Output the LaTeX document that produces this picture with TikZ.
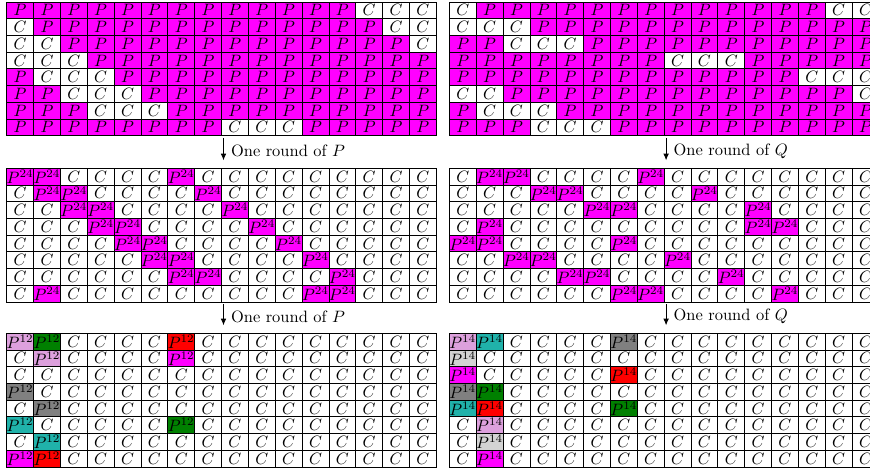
\documentclass[tikz,border=0pt]{standalone}
\usepackage{amsmath,amssymb}
\usepackage{tikz}
\usetikzlibrary{arrows.meta,positioning}

\definecolor{cellP}{RGB}{255,0,255}
\definecolor{cellC}{RGB}{255,255,255}
\definecolor{cellm}{RGB}{255,0,255}
\definecolor{celll}{RGB}{221,160,221}
\definecolor{cellg}{RGB}{0,128,0}
\definecolor{cellr}{RGB}{255,0,0}
\definecolor{cellk}{RGB}{128,128,128}
\definecolor{cellt}{RGB}{32,178,170}
\definecolor{cells}{RGB}{211,211,211}

\newcommand{\cellw}{26.85}
\newcommand{\cellh}{16.7}
\newcommand{\gexp}{}
\newcommand{\celltext}[1]{\if#1P$P$\else\if#1C$C$\else$P^{\gexp}$\fi\fi}

\tikzset{
    cell/.style={draw=black, line width=0.4pt, minimum width=16.31pt,
        minimum height=10.15pt, inner sep=0pt, outer sep=0pt},
    celltxt/.style={inner sep=0pt},
    roundarrow/.style={-{Latex[length=4pt,width=3.4pt]}, line width=0.5pt},
    steplabel/.style={anchor=west, xshift=1pt, yshift=-1pt}
}

% one 8x16 board: name, left, top, exponent, rows
\newcommand{\cellgrid}[5]{%
    \renewcommand{\gexp}{#4}%
    \foreach \rowcells [count=\r] in {#5} {
        \foreach \t [count=\c] in \rowcells {
            \node[cell, fill=cell\t] (#1-\r-\c) at ({#2+(\c-0.5)*\cellw}, {#3+(\r-0.5)*\cellh}) {};
        }
    }
    \foreach \rowcells [count=\r] in {#5} {
        \foreach \t [count=\c] in \rowcells {
            \node[celltxt] (#1-\r-\c-t) at (#1-\r-\c) {\makebox[0pt]{\celltext{\t}}};
        }
    }
}

\begin{document}
\begin{tikzpicture}[x=0.6075pt, y=-0.6075pt]
    \path[use as bounding box, clip] (0, 0) rectangle (870, 470);

    % Before
    \cellgrid{tl}{6.7}{2}{}{
        {P,P,P,P,P,P,P,P,P,P,P,P,P,C,C,C},
        {C,P,P,P,P,P,P,P,P,P,P,P,P,P,C,C},
        {C,C,P,P,P,P,P,P,P,P,P,P,P,P,P,C},
        {C,C,C,P,P,P,P,P,P,P,P,P,P,P,P,P},
        {P,C,C,C,P,P,P,P,P,P,P,P,P,P,P,P},
        {P,P,C,C,C,P,P,P,P,P,P,P,P,P,P,P},
        {P,P,P,C,C,C,P,P,P,P,P,P,P,P,P,P},
        {P,P,P,P,P,P,P,P,C,C,C,P,P,P,P,P}}
    \cellgrid{tr}{449.3}{2}{}{
        {C,P,P,P,P,P,P,P,P,P,P,P,P,P,C,C},
        {C,C,C,P,P,P,P,P,P,P,P,P,P,P,P,P},
        {P,P,C,C,C,P,P,P,P,P,P,P,P,P,P,P},
        {P,P,P,P,P,P,P,P,C,C,C,P,P,P,P,P},
        {P,P,P,P,P,P,P,P,P,P,P,P,P,C,C,C},
        {C,C,P,P,P,P,P,P,P,P,P,P,P,P,P,C},
        {P,C,C,C,P,P,P,P,P,P,P,P,P,P,P,P},
        {P,P,P,C,C,C,P,P,P,P,P,P,P,P,P,P}}

    % After one round
    \cellgrid{ml}{6.7}{168.3}{24}{
        {m,m,C,C,C,C,m,C,C,C,C,C,C,C,C,C},
        {C,m,m,C,C,C,C,m,C,C,C,C,C,C,C,C},
        {C,C,m,m,C,C,C,C,m,C,C,C,C,C,C,C},
        {C,C,C,m,m,C,C,C,C,m,C,C,C,C,C,C},
        {C,C,C,C,m,m,C,C,C,C,m,C,C,C,C,C},
        {C,C,C,C,C,m,m,C,C,C,C,m,C,C,C,C},
        {C,C,C,C,C,C,m,m,C,C,C,C,m,C,C,C},
        {C,m,C,C,C,C,C,C,C,C,C,m,m,C,C,C}}
    \cellgrid{mr}{449.3}{168.3}{24}{
        {C,m,m,C,C,C,C,m,C,C,C,C,C,C,C,C},
        {C,C,C,m,m,C,C,C,C,m,C,C,C,C,C,C},
        {C,C,C,C,C,m,m,C,C,C,C,m,C,C,C,C},
        {C,m,C,C,C,C,C,C,C,C,C,m,m,C,C,C},
        {m,m,C,C,C,C,m,C,C,C,C,C,C,C,C,C},
        {C,C,m,m,C,C,C,C,m,C,C,C,C,C,C,C},
        {C,C,C,C,m,m,C,C,C,C,m,C,C,C,C,C},
        {C,C,C,C,C,C,m,m,C,C,C,C,m,C,C,C}}

    % After two rounds
    \cellgrid{bl}{6.7}{333.3}{12}{
        {l,g,C,C,C,C,r,C,C,C,C,C,C,C,C,C},
        {C,l,C,C,C,C,m,C,C,C,C,C,C,C,C,C},
        {C,C,C,C,C,C,C,C,C,C,C,C,C,C,C,C},
        {k,C,C,C,C,C,C,C,C,C,C,C,C,C,C,C},
        {C,k,C,C,C,C,C,C,C,C,C,C,C,C,C,C},
        {t,C,C,C,C,C,g,C,C,C,C,C,C,C,C,C},
        {C,t,C,C,C,C,C,C,C,C,C,C,C,C,C,C},
        {m,r,C,C,C,C,C,C,C,C,C,C,C,C,C,C}}
    \cellgrid{br}{449.3}{333.3}{14}{
        {l,t,C,C,C,C,k,C,C,C,C,C,C,C,C,C},
        {s,C,C,C,C,C,C,C,C,C,C,C,C,C,C,C},
        {m,C,C,C,C,C,r,C,C,C,C,C,C,C,C,C},
        {k,g,C,C,C,C,C,C,C,C,C,C,C,C,C,C},
        {t,r,C,C,C,C,g,C,C,C,C,C,C,C,C,C},
        {C,l,C,C,C,C,C,C,C,C,C,C,C,C,C,C},
        {C,s,C,C,C,C,C,C,C,C,C,C,C,C,C,C},
        {C,m,C,C,C,C,C,C,C,C,C,C,C,C,C,C}}

    % Rounds
    \coordinate (pone-a) at ([shift={(2,2.5)}]tl-8-8.south east);
    \coordinate (pone-b) at ([shift={(2,-8)}]ml-1-8.north east);
    \coordinate (qone-a) at ([shift={(2,2.5)}]tr-8-8.south east);
    \coordinate (qone-b) at ([shift={(2,-8)}]mr-1-8.north east);
    \coordinate (ptwo-a) at ([shift={(2,2.5)}]ml-8-8.south east);
    \coordinate (ptwo-b) at ([shift={(2,-8)}]bl-1-8.north east);
    \coordinate (qtwo-a) at ([shift={(2,2.5)}]mr-8-8.south east);
    \coordinate (qtwo-b) at ([shift={(2,-8)}]br-1-8.north east);

    \draw[roundarrow] (pone-a) -- node[steplabel] (pone-lab) {One round of $P$} (pone-b);
    \draw[roundarrow] (qone-a) -- node[steplabel] (qone-lab) {One round of $Q$} (qone-b);
    \draw[roundarrow] (ptwo-a) -- node[steplabel] (ptwo-lab) {One round of $P$} (ptwo-b);
    \draw[roundarrow] (qtwo-a) -- node[steplabel] (qtwo-lab) {One round of $Q$} (qtwo-b);
\end{tikzpicture}
\end{document}
